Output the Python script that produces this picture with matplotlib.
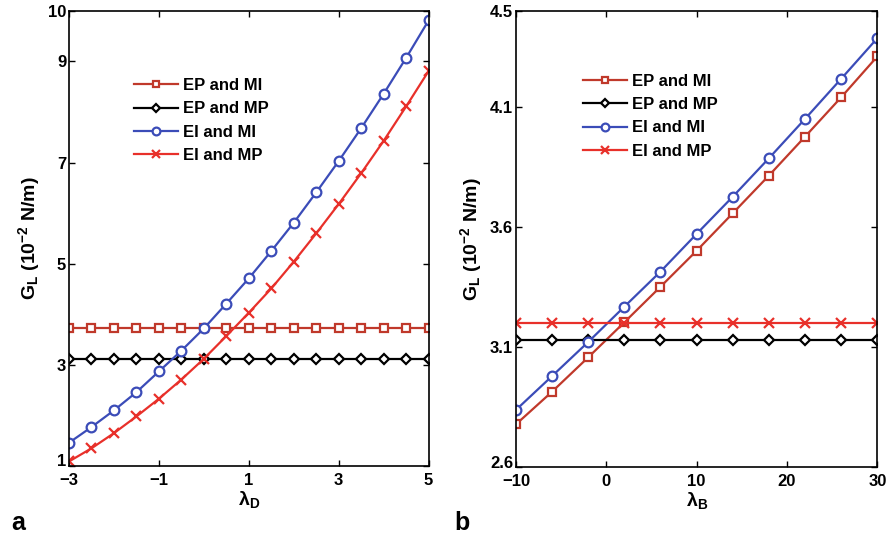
import matplotlib
matplotlib.use("Agg")
import matplotlib.pyplot as plt
import matplotlib.transforms as mtransforms
import numpy as np

plt.rcParams['font.family'] = ['Liberation Sans', 'DejaVu Sans']
plt.rcParams['font.weight'] = 'bold'
plt.rcParams['mathtext.default'] = 'regular'

# Panel a: lambda_D
lam_D = [-3, -2.5, -2, -1.5, -1, -0.5, 0, 0.5, 1, 1.5, 2, 2.5, 3, 3.5, 4, 4.5, 5]
a_EP_MI = [3.73] * 17
a_EP_MP = [3.11] * 17
a_EI_MI = [1.46, 1.77, 2.10, 2.46, 2.87, 3.28, 3.72, 4.21, 4.71, 5.25, 5.81, 6.41, 7.03, 7.68, 8.36, 9.07, 9.81]
a_EI_MP = [1.09, 1.35, 1.65, 1.98, 2.33, 2.71, 3.12, 3.57, 4.03, 4.51, 5.04, 5.60, 6.18, 6.79, 7.43, 8.11, 8.81]

# Panel b: lambda_B
lam_B = [-10, -6, -2, 2, 6, 10, 14, 18, 22, 26, 30]
b_EP_MI = [2.778, 2.914, 3.057, 3.203, 3.351, 3.501, 3.657, 3.814, 3.976, 4.140, 4.310]
b_EP_MP = [3.129] * 11
b_EI_MI = [2.838, 2.979, 3.121, 3.268, 3.414, 3.571, 3.726, 3.886, 4.050, 4.217, 4.386]
b_EI_MP = [3.199] * 11

labels = ['EP and MI', 'EP and MP', 'EI and MI', 'EI and MP']
colors = ['#C0392B', '#000000', '#3B4CB8', '#E8302A']
markers = ['s', 'D', 'o', 'x']
msizes = [5.5, 5.5, 7, 6.5]

a_ticks_x = [-3, -1, 1, 3, 5]
a_ticks_y = [1, 3, 5, 7, 9, 10]
b_ticks_x = [-10, 0, 10, 20, 30]
b_ticks_y = [2.6, 3.1, 3.6, 4.1, 4.5]

fig = plt.figure(figsize=(8.88, 5.4), dpi=100)
ax1 = fig.add_axes([0.0777, 0.137, 0.405, 0.843])
ax2 = fig.add_axes([0.581, 0.135, 0.407, 0.845])

def draw(ax, x, series, xt, yt, xlim, ylim, xlabel, legpos):
    for y, lab, c, m, ms in zip(series, labels, colors, markers, msizes):
        ax.plot(x, y, color=c, lw=1.6, marker=m, ms=ms, mfc='white' if m != 'x' else c,
                mec=c, mew=1.6, label=lab)
    ax.set_xlim(xlim)
    ax.set_ylim(ylim)
    ax.set_xticks(xt)
    ax.set_xticklabels(['\u2212' + str(abs(v)) if v < 0 else str(v) for v in xt])
    ax.set_yticks(yt)
    ax.set_yticklabels([str(v) for v in yt])
    ax.tick_params(direction='in', top=True, right=True, labelsize=12, length=4, width=1)
    ax.tick_params(axis='x', pad=5)
    ax.tick_params(axis='y', pad=2)
    for s in ax.spines.values():
        s.set_linewidth(1.2)
    # raise the lowest y tick label slightly (as in reference)
    lab0 = ax.get_yticklabels()[0]
    lab0.set_transform(lab0.get_transform() +
                       mtransforms.ScaledTranslation(0, 4 / 72, fig.dpi_scale_trans))
    ax.set_xlabel(xlabel, fontsize=14, fontweight='bold', labelpad=1)
    ax.set_ylabel('G$_{L}$ (10$^{-2}$ N/m)', fontsize=14, fontweight='bold', labelpad=4)
    ax.legend(loc='upper left', bbox_to_anchor=legpos, frameon=False, fontsize=12,
              handlelength=2.6, markerscale=0.8, labelspacing=0.5, handletextpad=0.3)

draw(ax1, lam_D, [a_EP_MI, a_EP_MP, a_EI_MI, a_EI_MP], a_ticks_x, a_ticks_y,
     (-3, 5), (1, 10), '\u03bb$_{D}$', (0.14, 0.885))
draw(ax2, lam_B, [b_EP_MI, b_EP_MP, b_EI_MI, b_EI_MP], b_ticks_x, b_ticks_y,
     (-10, 30), (2.6, 4.5), '\u03bb$_{B}$', (0.145, 0.895))

fig.text(0.013, 0.018, 'a', fontsize=18, fontweight='bold')
fig.text(0.512, 0.018, 'b', fontsize=18, fontweight='bold')

fig.savefig('out.png', dpi=100)
